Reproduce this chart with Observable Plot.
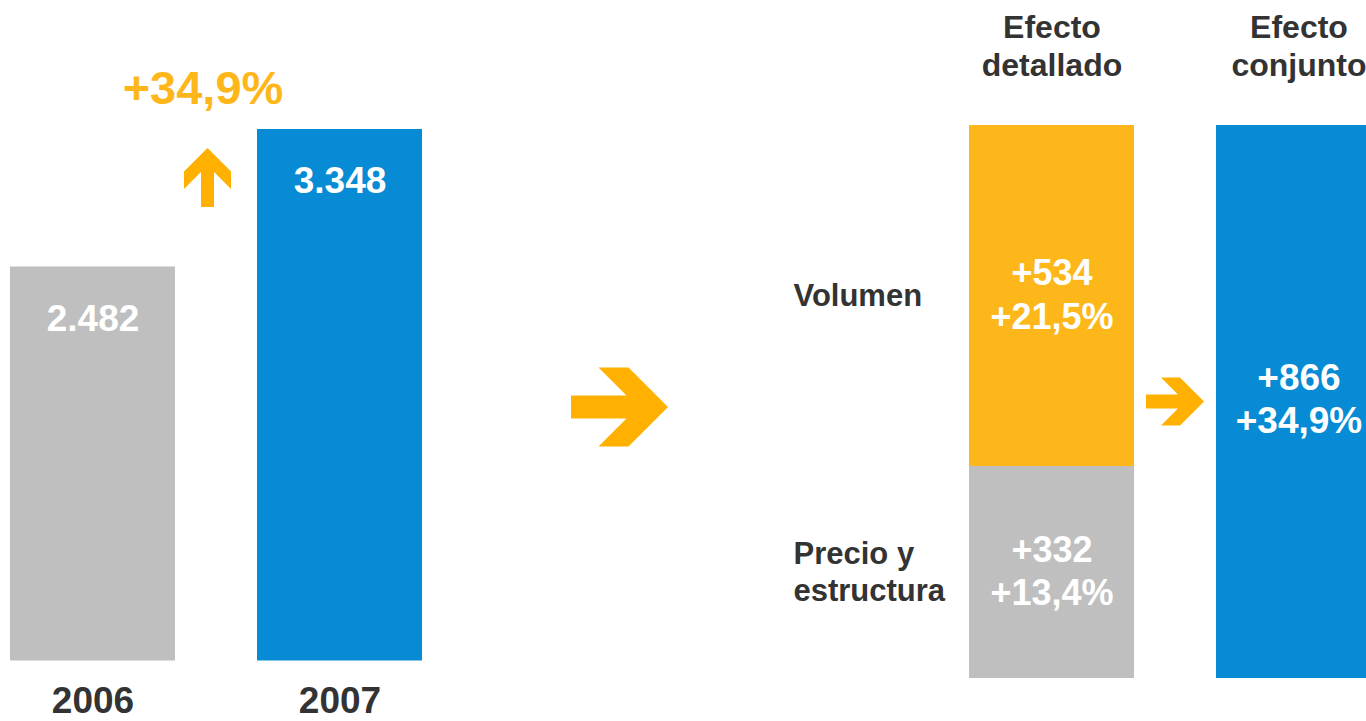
<!DOCTYPE html>
<html><head><meta charset="utf-8">
<script src="https://cdn.jsdelivr.net/npm/d3@7"></script>
<script src="https://cdn.jsdelivr.net/npm/@observablehq/plot@0.6"></script>
<style>
html,body{margin:0;padding:0;background:#fff;}
#chart{position:relative;width:1366px;height:721px;overflow:hidden;font-family:"Liberation Sans",Arial,sans-serif;}
#chart svg{position:absolute;top:0;overflow:hidden;}
</style></head><body><div id="chart"></div>
<script>
// ---- data ----
const years = ["2006", "2007"];
const sales = [2482, 3348];
const headers = ["Efecto\ndetallado", "Efecto\nconjunto"];
const effectNames = ["Precio y\nestructura", "Volumen"];
const effectValues = [332, 534];
const effectPct = [13.4, 21.5];
const totalValue = 866;
const totalPct = 34.9;

// ---- styles ----
const GRAY = "#BFBFBF", BLUE = "#078BD4", ORANGE = "#FDB71A", ARROW = "#FFB000", DARK = "#333333";
const FONT = '"Liberation Sans", Arial, sans-serif';

const es = d3.formatLocale({decimal: ",", thousands: ".", grouping: [3], currency: ["", "€"]});
const fmtInt = es.format(",d");
const fmtPct = v => "+" + es.format(".1f")(v) + "%";

function arrowPath(L, H, W, F) {
  const pts = [[0,0],[-H,-H],[-H-F,-H],[-F-W,-W],[-L,-W],[-L,W],[-F-W,W],[-H-F,H],[-H,H]];
  return "M" + pts.map(p => p.join(",")).join("L") + "Z";
}
function bw(scale) {
  return typeof scale.bandwidth === "function" ? scale.bandwidth() : scale.bandwidth;
}

const chart = document.getElementById("chart");

// ---- left panel ----
const left = years.map((year, i) => ({year, value: sales[i], color: i === 0 ? GRAY : BLUE}));
const growth = (sales[1] / sales[0] - 1) * 100;

const leftPlot = Plot.plot({
  width: 700, height: 721,
  marginTop: 0, marginRight: 0, marginBottom: 0, marginLeft: 0,
  style: {fontFamily: FONT, background: "transparent"},
  x: {domain: years, range: [10, 422], paddingInner: 0.332, paddingOuter: 0, axis: null},
  y: {domain: [0, d3.max(sales)], range: [660.5, 129], axis: null},
  color: {type: "identity"},
  marks: [
    Plot.barY(left, {x: "year", y: "value", fill: "color"}),
    Plot.text(left, {x: "year", y: "value", text: d => fmtInt(d.value), dy: 52, lineAnchor: "middle",
      fill: "white", fontSize: 37, fontWeight: "bold"}),
    Plot.text(left, {x: "year", text: "year", frameAnchor: "bottom", lineAnchor: "bottom", dy: -9,
      fill: DARK, fontSize: 37, fontWeight: "bold"}),
    Plot.text([fmtPct(growth)], {text: d => d, frameAnchor: "top-left", textAnchor: "middle", lineAnchor: "top",
      dx: 202.5, dy: 70, fill: ORANGE, fontSize: 47, fontWeight: "bold"}),
    (index, scales) => {
      const g = d3.create("svg:g").attr("fill", ARROW);
      const b = bw(scales.x);
      const upX = scales.x("2006") + b + 32.5;
      const upY = scales.y(sales[1]) + 19;
      g.append("path").attr("d", arrowPath(59, 23.5, 6.5, 17.5))
        .attr("transform", `translate(${upX},${upY}) rotate(-90)`);
      const rx = scales.x("2007") + b + 246;
      g.append("path").attr("d", arrowPath(97, 39.5, 11.5, 30))
        .attr("transform", `translate(${rx},407)`);
      return g.node();
    }
  ]
});
leftPlot.style.left = "0px";
chart.appendChild(leftPlot);

// ---- right panel ----
const effects = effectNames.map((name, i) => ({
  bar: headers[0], name, value: effectValues[i], pct: effectPct[i], color: i === 1 ? ORANGE : GRAY
}));
const total = [{bar: headers[1], value: totalValue, pct: totalPct, color: BLUE}];

const rightPlot = Plot.plot({
  width: 666, height: 721,
  marginTop: 0, marginRight: 0, marginBottom: 0, marginLeft: 0,
  style: {fontFamily: FONT, background: "transparent"},
  x: {domain: headers, range: [269, 681], paddingInner: 0.332, paddingOuter: 0, axis: null},
  y: {domain: [0, totalValue], range: [678, 125], axis: null},
  color: {type: "identity"},
  marks: [
    Plot.barY(effects, {x: "bar", y: "value", fill: "color"}),
    Plot.barY(total, {x: "bar", y: "value", fill: "color"}),
    Plot.text(effects, Plot.stackY({x: "bar", y: "value", text: d => "+" + d.value + "\n" + fmtPct(d.pct),
      lineAnchor: "middle", lineHeight: 1.22, dy: -3, fill: "white", fontSize: 36, fontWeight: "bold"})),
    Plot.text(total, Plot.stackY({x: "bar", y: "value", text: d => "+" + d.value + "\n" + fmtPct(d.pct),
      lineAnchor: "middle", lineHeight: 1.17, dy: -4, fill: "white", fontSize: 37, fontWeight: "bold"})),
    Plot.text(effects, Plot.stackY({x: "bar", y: "value", text: "name", textAnchor: "start", dx: -258.5,
      lineAnchor: "middle", lineHeight: 1.2, dy: -2, fill: DARK, fontSize: 31, fontWeight: "bold"})),
    Plot.text(headers, {x: d => d, text: d => d, frameAnchor: "top", lineAnchor: "top", dy: 10,
      lineHeight: 1.19, fill: DARK, fontSize: 32, fontWeight: "bold"}),
    (index, scales) => {
      const g = d3.create("svg:g").attr("fill", ARROW);
      const b = bw(scales.x);
      const ax = scales.x(headers[0]) + b + 70;
      const ay = scales.y(totalValue / 2);
      g.append("path").attr("d", arrowPath(58, 24, 7, 19))
        .attr("transform", `translate(${ax},${ay})`);
      return g.node();
    }
  ]
});
rightPlot.style.left = "700px";
chart.appendChild(rightPlot);
</script></body></html>
